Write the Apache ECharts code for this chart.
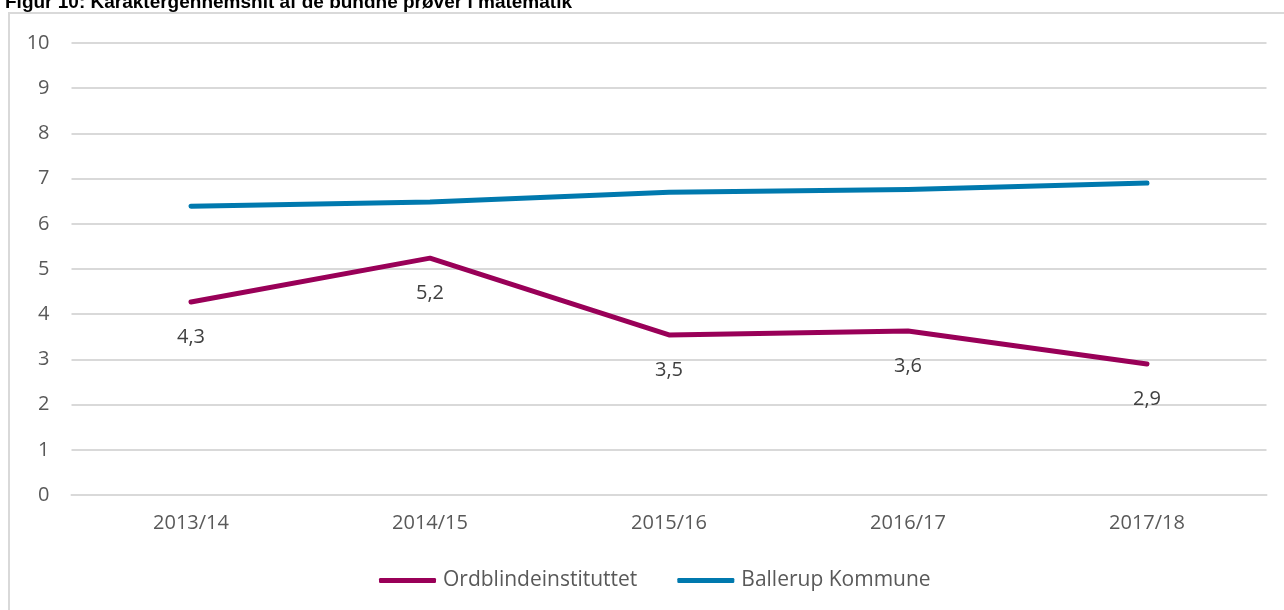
<!DOCTYPE html>
<html>
<head>
<meta charset="utf-8">
<script src="https://cdn.jsdelivr.net/npm/echarts@6/dist/echarts.min.js"></script>
<style>
  html, body { margin: 0; padding: 0; background: #fff; }
  #chart { width: 1284px; height: 610px; }
</style>
</head>
<body>
<div id="chart"></div>
<script>
// data
const years = ['2013/14', '2014/15', '2015/16', '2016/17', '2017/18'];
const ordblinde = [4.27, 5.24, 3.54, 3.63, 2.9];
const ballerup = [6.39, 6.48, 6.7, 6.76, 6.9];
const yTicks = [0, 10, 1]; // min, max, interval

const txt = '#595959';
const font = 'Open Sans';

const chart = echarts.init(document.getElementById('chart'));

chart.setOption({
  animation: false,
  title: {
    text: 'Figur 10: Karaktergennemsnit af de bundne prøver i matematik',
    left: 0,
    top: -12,
    textStyle: { fontFamily: 'Liberation Sans', fontWeight: 'bold', fontSize: 19, color: '#000' }
  },
  graphic: [{
    type: 'rect',
    shape: { x: 9, y: 13, width: 1290, height: 610 },
    style: { fill: 'none', stroke: '#d9d9d9', lineWidth: 2 },
    silent: true
  }],
  grid: { left: 71.5, right: 17.5, top: 43, bottom: 115 },
  legend: {
    left: 374,
    top: 565,
    icon: 'roundRect',
    itemWidth: 57,
    itemHeight: 5,
    itemGap: 40,
    textStyle: { fontFamily: font, fontSize: 21, color: txt, padding: [0, 0, 0, 2] },
    data: ['Ordblindeinstituttet', 'Ballerup Kommune']
  },
  xAxis: {
    type: 'category',
    data: years,
    boundaryGap: true,
    axisLine: { lineStyle: { color: '#d9d9d9', width: 2 } },
    axisTick: { show: false },
    axisLabel: { fontFamily: font, fontSize: 20, color: txt, margin: 18 }
  },
  yAxis: {
    type: 'value',
    min: yTicks[0],
    max: yTicks[1],
    interval: yTicks[2],
    axisLine: { show: false },
    axisTick: { show: false },
    splitLine: { lineStyle: { color: '#d9d9d9', width: 2 } },
    axisLabel: { fontFamily: font, fontSize: 20, color: txt, margin: 22 }
  },
  series: [
    {
      name: 'Ordblindeinstituttet',
      type: 'line',
      data: ordblinde,
      symbol: 'circle',
      symbolSize: 0,
      showSymbol: true,
      color: '#990058',
      lineStyle: { width: 5, cap: 'round', join: 'round' },
      label: {
        show: true,
        position: 'bottom',
        distance: 25,
        fontFamily: font,
        fontSize: 20,
        color: '#404040',
        formatter: p => p.value.toFixed(1).replace('.', ',')
      }
    },
    {
      name: 'Ballerup Kommune',
      type: 'line',
      data: ballerup,
      symbol: 'none',
      color: '#0079ae',
      lineStyle: { width: 5, cap: 'round', join: 'round' }
    }
  ]
});
</script>
</body>
</html>
